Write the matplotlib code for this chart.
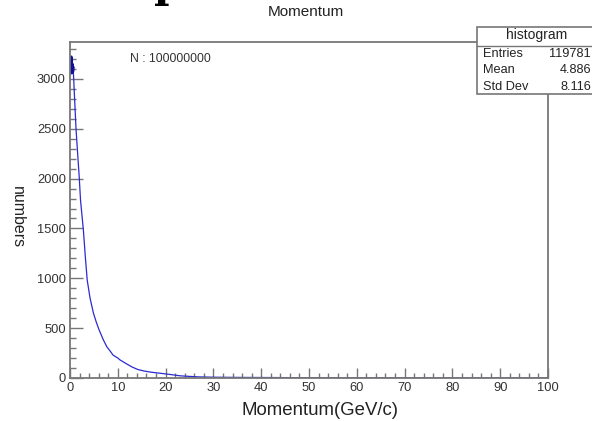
import matplotlib
matplotlib.use('Agg')
import matplotlib.pyplot as plt
from matplotlib.patches import Rectangle
from matplotlib.ticker import MultipleLocator

plt.rcParams['font.family'] = ['Liberation Sans', 'DejaVu Sans']

# histogram: bin centre (GeV/c) -> entries per bin
momentum = [0.05, 0.15, 0.25, 0.35, 0.45, 0.55, 0.65, 0.77, 1.0, 1.26, 1.6,
            1.95, 2.2, 2.8, 3.2, 3.6, 4.2, 4.9, 5.5, 6.1, 7.0, 7.7, 8.4, 9.0,
            10.0, 10.5, 11.9, 13.0, 14.2, 15.5, 17.0, 18.8, 21.0, 23.0, 25.0,
            27.0, 30.0, 35.0, 40.0, 45.0, 50.0, 60.0, 70.0, 80.0, 90.0, 99.95]
counts = [3200, 3080, 3220, 3060, 3150, 3070, 3110, 3000, 2760, 2500, 2250,
          2000, 1784, 1483, 1220, 982, 800, 651, 560, 481, 380, 314, 270, 230,
          200, 180, 140, 110, 85, 70, 58, 48, 35, 22, 16,
          11, 8, 6, 5, 4, 3, 2, 2, 1, 1, 1]

stats_labels = ['Entries', 'Mean', 'Std Dev']
stats_values = ['119781', '4.886', '8.116']

W, H = 592, 421
fig = plt.figure(figsize=(W / 100, H / 100), dpi=100)
ax = fig.add_axes([70 / W, 1 - 378 / H, 478 / W, 336 / H])

ax.plot(momentum, counts, color='#2b2bd0', lw=0.9)
# thicker dark blob at the first bins (error bars)
ax.plot(momentum[:7], counts[:7], color='#10109a', lw=2.2)

ax.set_xlim(0, 100)
ax.set_ylim(0, 3370)
ax.xaxis.set_major_locator(MultipleLocator(10))
ax.xaxis.set_minor_locator(MultipleLocator(2))
ax.yaxis.set_major_locator(MultipleLocator(500))
ax.yaxis.set_minor_locator(MultipleLocator(100))
ax.tick_params(which='both', direction='in', colors='#777777',
               labelcolor='#333333', labelsize=9.3, width=1.0)
ax.tick_params(axis='x', which='major', length=7.5)
ax.tick_params(axis='x', which='minor', length=3.8)
ax.tick_params(axis='y', which='major', length=9.5)
ax.tick_params(axis='y', which='minor', length=4.5)
ax.tick_params(axis='x', pad=3)
ax.tick_params(axis='y', pad=3)
for s in ax.spines.values():
    s.set_color('#777777')
    s.set_linewidth(1.3)

ax.set_xlabel('Momentum(GeV/c)', fontsize=13.4, color='#222222')
ax.xaxis.set_label_coords(0.523, -0.07)
ax.set_ylabel('numbers', fontsize=11.5, color='#222222', rotation=-90,
              va='center')
ax.yaxis.set_label_coords(-0.109, 0.48)

fig.text(306 / W, 1 - 12 / H, 'Momentum', ha='center', va='center',
         fontsize=11, color='#222222')
fig.text(130 / W, 1 - 59 / H, 'N : 100000000', ha='left', va='center',
         fontsize=8.8, color='#333333')

# partially cut bold glyph at the very top of the picture
fig.text(169 / W, 1 + 3 / H, 'p', ha='center', va='baseline',
         fontsize=30, fontweight='bold', family='DejaVu Serif', color='black')

# stats box
bx0, by0, bx1, by1 = 477, 27, 600, 94
fig.patches.append(Rectangle((bx0 / W, 1 - by1 / H), (bx1 - bx0) / W,
                             (by1 - by0) / H, transform=fig.transFigure,
                             facecolor='white', edgecolor='#777777', lw=1.2,
                             zorder=5))
fig.lines.append(plt.Line2D([bx0 / W, bx1 / W], [1 - 46 / H, 1 - 46 / H],
                            transform=fig.transFigure, color='#777777',
                            lw=1.0, zorder=6))
fig.text(537 / W, 1 - 35 / H, 'histogram', ha='center', va='center',
         fontsize=10, color='#222222', zorder=7)
for i, (lab, val) in enumerate(zip(stats_labels, stats_values)):
    y = 1 - (54 + i * 16.3) / H
    fig.text(483 / W, y, lab, ha='left', va='center', fontsize=9.2,
             color='#222222', zorder=7)
    fig.text(591 / W, y, val, ha='right', va='center', fontsize=9.2,
             color='#222222', zorder=7)

fig.savefig('out.png', dpi=100)
